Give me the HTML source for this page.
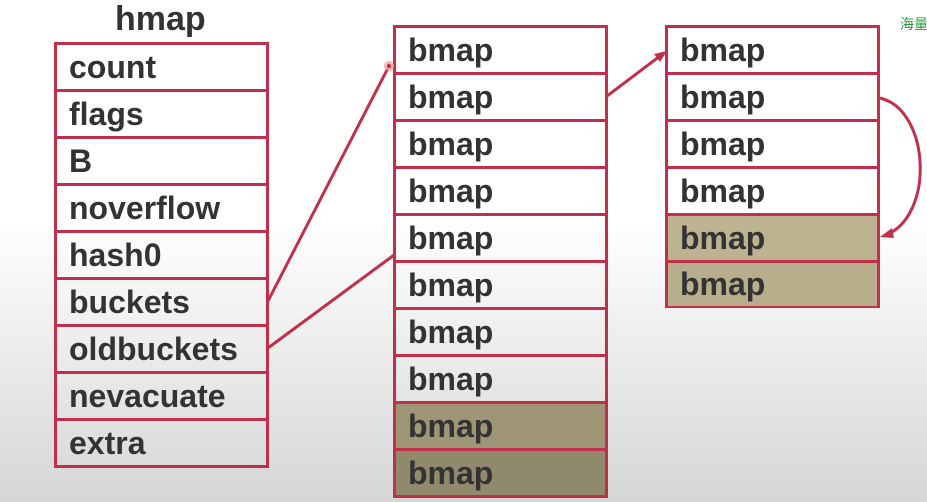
<!DOCTYPE html>
<html><head><meta charset="utf-8"><style>
body{margin:0;width:927px;height:502px;overflow:hidden;background:linear-gradient(to bottom,#fff 0,#fff 220px,#d6d6d6 502px);font-family:"Liberation Sans","DejaVu Sans",sans-serif;position:relative}
.t{position:absolute;border:3px solid #c0304a;box-sizing:border-box}
.r{box-sizing:border-box;border-bottom:3px solid #c0304a;font-weight:bold;font-size:32px;color:#333;padding-left:12px;display:flex;align-items:center;white-space:nowrap}
.r:last-child{border-bottom:none}
</style></head><body>
<div style="position:absolute;left:115px;top:0px;font-weight:bold;font-size:34px;color:#333">hmap</div>
<div style="position:absolute;left:900px;top:14px;font-size:14px;color:#2a9a3a;white-space:nowrap;font-family:'Noto Sans CJK SC',sans-serif">海量</div>
<div class="t" style="left:54px;top:42px;width:215px;height:426px">
<div class="r" style="height:47px">count</div><div class="r" style="height:47px">flags</div><div class="r" style="height:47px">B</div><div class="r" style="height:47px">noverflow</div><div class="r" style="height:47px">hash0</div><div class="r" style="height:47px">buckets</div><div class="r" style="height:47px">oldbuckets</div><div class="r" style="height:47px">nevacuate</div><div class="r" style="height:44px">extra</div>
</div>
<div class="t" style="left:393px;top:25px;width:215px;height:473px">
<div class="r" style="height:47px">bmap</div><div class="r" style="height:47px">bmap</div><div class="r" style="height:47px">bmap</div><div class="r" style="height:47px">bmap</div><div class="r" style="height:47px">bmap</div><div class="r" style="height:47px">bmap</div><div class="r" style="height:47px">bmap</div><div class="r" style="height:47px">bmap</div><div class="r" style="height:47px;background:#9e9677">bmap</div><div class="r" style="height:44px;background:#91896b">bmap</div>
</div>
<div class="t" style="left:665px;top:25px;width:215px;height:283px">
<div class="r" style="height:47px">bmap</div><div class="r" style="height:47px">bmap</div><div class="r" style="height:47px">bmap</div><div class="r" style="height:47px">bmap</div><div class="r" style="height:47px;background:#bdb390">bmap</div><div class="r" style="height:43px;background:#b8ae8c">bmap</div>
</div>
<svg width="927" height="502" style="position:absolute;left:0;top:0">
<g stroke="#c0304a" stroke-width="3" fill="none">
<line x1="268" y1="301" x2="388" y2="68"/>
<line x1="268" y1="348" x2="394" y2="255"/>
<line x1="607" y1="96" x2="660" y2="56"/>
<path d="M880 98 C930 110 935 215 886 235"/>
</g>
<polygon points="667,51 654,54 660,62" fill="#c0304a"/>
<polygon points="880,237 892,228 894,238" fill="#c0304a"/>
<circle cx="389" cy="66" r="5" fill="#f7a0a0" opacity="0.8"/>
<circle cx="389" cy="66" r="2" fill="#c0304a"/>
</svg>
</body></html>
